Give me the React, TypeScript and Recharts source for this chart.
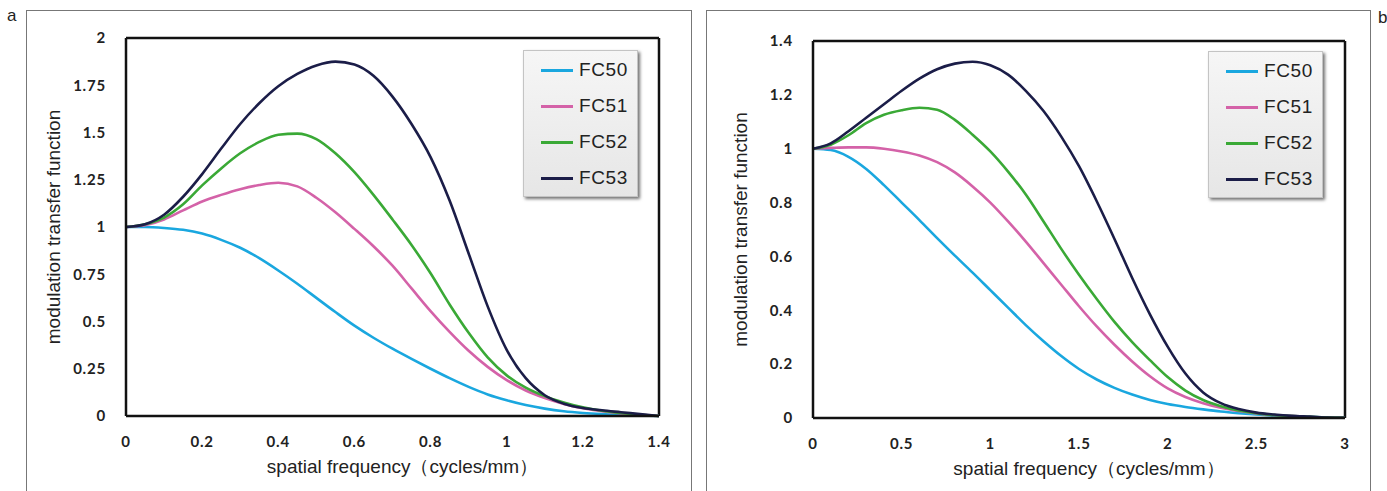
import React from 'react';
import {
  LineChart, Line, XAxis, YAxis, ReferenceLine, Label,
} from 'recharts';

// panel a: spatial frequency 0 - 1.4 cycles/mm
const freqA = [0, 0.05, 0.1, 0.15, 0.2, 0.25, 0.3, 0.35, 0.4, 0.45, 0.5, 0.55, 0.6, 0.65, 0.7,
  0.75, 0.8, 0.85, 0.9, 0.95, 1.0, 1.05, 1.1, 1.15, 1.2, 1.25, 1.3, 1.35, 1.4];
const fc50A = [1.0, 1.0, 0.995, 0.985, 0.965, 0.932, 0.89, 0.835, 0.77, 0.7, 0.625, 0.55, 0.478, 0.414, 0.356,
  0.302, 0.25, 0.2, 0.154, 0.114, 0.083, 0.058, 0.039, 0.025, 0.016, 0.01, 0.006, 0.003, 0.0];
const fc51A = [1.0, 1.01, 1.04, 1.088, 1.135, 1.17, 1.2, 1.222, 1.234, 1.215, 1.155, 1.078, 0.99, 0.898, 0.795,
  0.675, 0.555, 0.445, 0.345, 0.26, 0.19, 0.135, 0.095, 0.064, 0.041, 0.025, 0.014, 0.006, 0.0];
const fc52A = [1.0, 1.015, 1.05, 1.12, 1.22, 1.31, 1.39, 1.45, 1.488, 1.494, 1.465, 1.39, 1.29, 1.17, 1.04,
  0.905, 0.755, 0.59, 0.44, 0.31, 0.215, 0.15, 0.105, 0.072, 0.046, 0.028, 0.016, 0.007, 0.0];
const fc53A = [1.0, 1.015, 1.065, 1.16, 1.28, 1.415, 1.545, 1.655, 1.745, 1.81, 1.855, 1.875, 1.86, 1.8, 1.69,
  1.545, 1.37, 1.14, 0.86, 0.58, 0.35, 0.2, 0.11, 0.065, 0.042, 0.03, 0.02, 0.01, 0.0];
const ticksXA = [0, 0.2, 0.4, 0.6, 0.8, 1, 1.2, 1.4];
const ticksYA = [0, 0.25, 0.5, 0.75, 1, 1.25, 1.5, 1.75, 2];

// panel b: spatial frequency 0 - 3 cycles/mm
const freqB = [0, 0.1, 0.2, 0.3, 0.4, 0.5, 0.6, 0.7, 0.8, 0.9, 1.0, 1.1, 1.2, 1.3, 1.4, 1.5,
  1.6, 1.7, 1.8, 1.9, 2.0, 2.1, 2.2, 2.3, 2.4, 2.5, 2.6, 2.7, 2.8, 2.9, 3.0];
const fc50B = [1.0, 0.995, 0.97, 0.925, 0.865, 0.8, 0.735, 0.668, 0.603, 0.54, 0.475, 0.41, 0.345, 0.285, 0.23, 0.182,
  0.143, 0.112, 0.087, 0.067, 0.052, 0.041, 0.032, 0.024, 0.018, 0.013, 0.009, 0.006, 0.004, 0.002, 0.001];
const fc51B = [1.0, 1.003, 1.005, 1.005, 1.0, 0.99, 0.975, 0.95, 0.912, 0.86, 0.8, 0.73, 0.655, 0.575, 0.495, 0.415,
  0.34, 0.272, 0.21, 0.155, 0.11, 0.078, 0.055, 0.038, 0.026, 0.017, 0.011, 0.007, 0.004, 0.002, 0.001];
const fc52B = [1.0, 1.015, 1.05, 1.095, 1.126, 1.143, 1.152, 1.145, 1.107, 1.052, 0.99, 0.915, 0.83, 0.73, 0.628, 0.532,
  0.442, 0.357, 0.282, 0.215, 0.152, 0.102, 0.067, 0.044, 0.028, 0.018, 0.011, 0.007, 0.004, 0.002, 0.001];
const fc53B = [1.0, 1.02, 1.065, 1.115, 1.165, 1.215, 1.26, 1.295, 1.316, 1.323, 1.31, 1.275, 1.215, 1.14, 1.045, 0.935,
  0.805, 0.665, 0.52, 0.385, 0.265, 0.165, 0.095, 0.055, 0.033, 0.02, 0.013, 0.008, 0.005, 0.002, 0.001];
const ticksXB = [0, 0.5, 1, 1.5, 2, 2.5, 3];
const ticksYB = [0, 0.2, 0.4, 0.6, 0.8, 1, 1.2, 1.4];

const seriesNames = ['FC50', 'FC51', 'FC52', 'FC53'];
const COLORS = ['#1aa7df', '#d462a8', '#3aa936', '#1b1d48'];

const FONT = '"Liberation Sans", Arial, sans-serif';
const TICK_FONT = 'Lato, "Open Sans", sans-serif';

const buildRows = (xs: number[], series: number[][]) =>
  xs.map((x, i) => {
    const row: Record<string, number> = { x };
    seriesNames.forEach((name, k) => { row[name] = series[k][i]; });
    return row;
  });

const LegendBox: React.FC<{ left: number; top: number }> = ({ left, top }) => (
  <div style={{
    position: 'absolute', left, top,
    width: 115, height: 147, boxSizing: 'border-box',
    background: 'linear-gradient(#f6f6f6, #e6e6e6)',
    border: '1px solid #c4c4c4',
    boxShadow: '2px 2px 3px rgba(0,0,0,0.55)',
    paddingTop: 1,
  }}>
    {seriesNames.map((name, i) => (
      <div key={name} style={{ display: 'flex', alignItems: 'center', height: 36 }}>
        <div style={{ width: 32, height: 3, marginLeft: 17, background: COLORS[i] }} />
        <span style={{ marginLeft: 6, fontFamily: FONT, fontSize: 19, color: '#222', letterSpacing: 0.6 }}>{name}</span>
      </div>
    ))}
  </div>
);

interface PanelProps {
  left: number;
  width: number;
  margin: { top: number; right: number; bottom: number; left: number };
  xs: number[];
  series: number[][];
  xMax: number;
  yMax: number;
  ticksX: number[];
  ticksY: number[];
  legendPos: { left: number; top: number };
}

const Panel: React.FC<PanelProps> = ({ left, width, margin, xs, series, xMax, yMax, ticksX, ticksY, legendPos }) => {
  const data = buildRows(xs, series);
  const tickStyle = { fontFamily: TICK_FONT, fontWeight: 700, fontSize: 15, fill: '#222', letterSpacing: 0.8 };
  return (
    <div style={{ position: 'absolute', left, top: 10, width, height: 500, border: '1px solid #777', boxSizing: 'border-box' }}>
      <LineChart width={width - 2} height={480} data={data} margin={margin}>
        <XAxis
          type="number" dataKey="x" domain={[0, xMax]} ticks={ticksX} height={60}
          axisLine={{ stroke: '#111', strokeWidth: 2.5 }} tickLine={false} tickSize={6} tickMargin={14}
          tick={tickStyle}
        >
          <Label value="spatial frequency（cycles/mm）" position="insideBottom" offset={3} dx={10}
            style={{ fontFamily: FONT, fontSize: 19, fill: '#222' }} />
        </XAxis>
        <YAxis
          type="number" domain={[0, yMax]} ticks={ticksY} width={60}
          axisLine={{ stroke: '#111', strokeWidth: 2.5 }} tickLine={false} tickSize={6} tickMargin={14}
          tick={tickStyle}
        >
          <Label value="modulation transfer function" angle={-90} position="insideLeft" offset={-13}
            style={{ fontFamily: FONT, fontSize: 19, fill: '#222', textAnchor: 'middle' }} />
        </YAxis>
        <ReferenceLine y={yMax} stroke="#111" strokeWidth={2.5} />
        <ReferenceLine x={xMax} stroke="#111" strokeWidth={2.5} />
        {seriesNames.map((name, i) => (
          <Line key={name} type="monotone" dataKey={name} stroke={COLORS[i]} strokeWidth={2.6}
            dot={false} isAnimationActive={false} />
        ))}
      </LineChart>
      <LegendBox left={legendPos.left} top={legendPos.top} />
    </div>
  );
};

export default function App() {
  return (
    <div style={{ position: 'absolute', left: 0, top: 0, width: 1387, height: 491, overflow: 'hidden', background: '#fff' }}>
      <div style={{ position: 'absolute', left: 7, top: 6, fontFamily: FONT, fontSize: 17, color: '#222' }}>a</div>
      <div style={{ position: 'absolute', left: 1378, top: 8, fontFamily: FONT, fontSize: 17, color: '#222' }}>b</div>
      <Panel
        left={26} width={666}
        margin={{ top: 27, right: 32, bottom: 15, left: 39 }}
        xs={freqA} series={[fc50A, fc51A, fc52A, fc53A]}
        xMax={1.4} yMax={2} ticksX={ticksXA} ticksY={ticksYA}
        legendPos={{ left: 496, top: 39 }}
      />
      <Panel
        left={706} width={665}
        margin={{ top: 30, right: 25, bottom: 13, left: 46 }}
        xs={freqB} series={[fc50B, fc51B, fc52B, fc53B]}
        xMax={3} yMax={1.4} ticksX={ticksXB} ticksY={ticksYB}
        legendPos={{ left: 501, top: 40 }}
      />
    </div>
  );
}
